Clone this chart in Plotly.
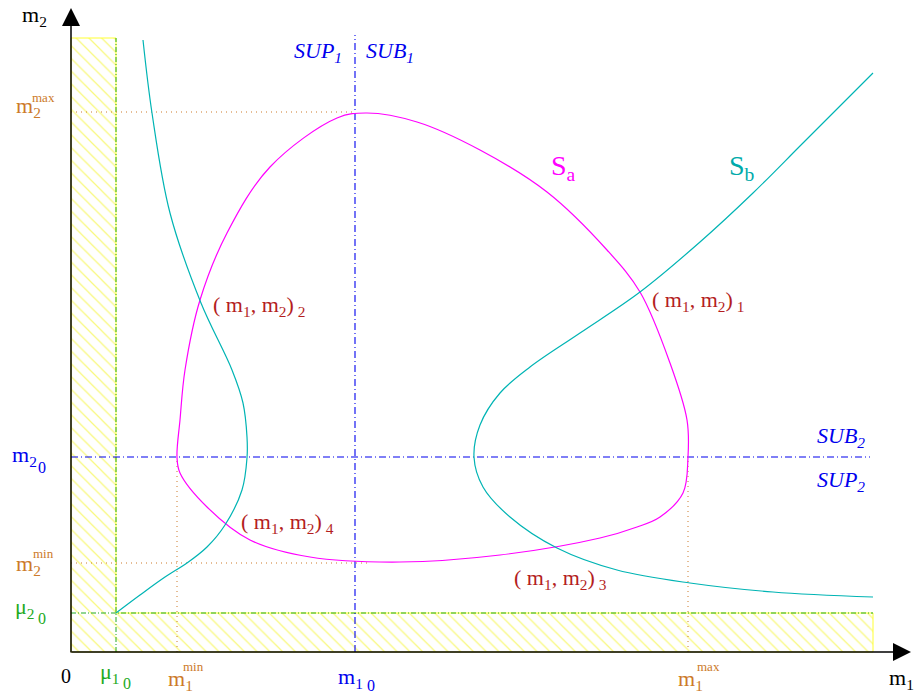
import plotly.graph_objects as go

# drawing units: origin at the axes corner, m1 to the right, m2 upwards
# curve S_a (closed loop)
sa_m1 = [296, 346, 409, 476, 536, 569, 599, 616, 617, 612, 589, 566, 529, 429, 329,
         239, 179, 136, 109, 106, 109, 114, 129, 156, 199, 266, 296]
sa_m2 = [539, 530, 502, 460, 402, 360, 289, 232, 195, 159, 135, 125, 114, 97, 90,
         95, 112, 145, 179, 195, 232, 282, 352, 419, 485, 534, 539]

# curve S_b, left branch (ends at the mu point) and right branch
sb_left_m1 = [72, 81, 99, 130, 161, 172, 176, 176, 171, 154, 136, 116, 94, 69, 45]
sb_left_m2 = [612, 539, 439, 349, 282, 249, 215, 194, 162, 127, 105, 89, 75, 57, 39]
sb_right_m1 = [802, 732, 682, 629, 569, 509, 459, 429, 409, 403, 412, 439, 486, 546, 619, 702, 802]
sb_right_m2 = [579, 509, 459, 410, 360, 319, 285, 259, 227, 195, 165, 135, 104, 82, 69, 60, 55]

# reference levels
mu1_0, mu2_0 = 45, 39
m1_min, m1_0, m1_max = 106, 284, 617
m2_min, m2_0, m2_max = 89, 195, 540
hatch_top, hatch_right = 614, 802
x_lo, x_hi, y_lo, y_hi = -71, 843, -44, 652

serif = "Liberation Serif"
orange = "#cc7a2a"
blue = "#0000ee"
green = "#22aa22"
red = "#b41e1e"
magenta = "#ff00ff"
teal = "#00b4b4"

fig = go.Figure()

# forbidden zone (hatched L)
fig.add_trace(go.Scatter(
    x=[0, hatch_right, hatch_right, mu1_0, mu1_0, 0, 0],
    y=[0, 0, mu2_0, mu2_0, hatch_top, hatch_top, 0],
    fill="toself", mode="lines", line=dict(color="#ffff33", width=1),
    fillpattern=dict(shape="\\", fgcolor="#f2f200", bgcolor="white", size=9, solidity=0.14),
    hoverinfo="skip"))

# green mu lines
fig.add_trace(go.Scatter(x=[mu1_0, mu1_0], y=[0, hatch_top], mode="lines",
                         line=dict(color=green, width=1, dash="5px,2px,1px,2px")))
fig.add_trace(go.Scatter(x=[0, hatch_right], y=[mu2_0, mu2_0], mode="lines",
                         line=dict(color=green, width=1, dash="5px,2px,1px,2px")))

# dotted min / max guides
dot = dict(color=orange, width=1, dash="1px,4px")
fig.add_trace(go.Scatter(x=[0, m1_0], y=[m2_max, m2_max], mode="lines", line=dot))
fig.add_trace(go.Scatter(x=[0, 300], y=[m2_min, m2_min], mode="lines", line=dot))
fig.add_trace(go.Scatter(x=[m1_min, m1_min], y=[0, m2_0], mode="lines", line=dot))
fig.add_trace(go.Scatter(x=[m1_max, m1_max], y=[0, m2_0], mode="lines", line=dot))

# blue dash-dot bifurcation lines
dd = dict(color=blue, width=1.1, dash="7px,3px,1px,3px")
fig.add_trace(go.Scatter(x=[m1_0, m1_0], y=[0, 617], mode="lines", line=dd))
fig.add_trace(go.Scatter(x=[0, 799], y=[m2_0, m2_0], mode="lines", line=dd))

# curves
curve = dict(width=1.2, shape="spline", smoothing=1.0)
fig.add_trace(go.Scatter(x=sa_m1, y=sa_m2, mode="lines", line=dict(color=magenta, **curve)))
fig.add_trace(go.Scatter(x=sb_left_m1, y=sb_left_m2, mode="lines", line=dict(color=teal, **curve)))
fig.add_trace(go.Scatter(x=sb_right_m1, y=sb_right_m2, mode="lines", line=dict(color=teal, **curve)))

# axes with arrows
for tip, tail in [((840, 0), (-1, 0)), ((0, 644), (0, -2))]:
    fig.add_annotation(x=tip[0], y=tip[1], ax=tail[0], ay=tail[1], axref="x", ayref="y",
                       text="", showarrow=True, arrowhead=2, arrowsize=2.4, arrowwidth=1.5,
                       arrowcolor="black", standoff=0)

labels = [
    (-37, 636, "m<sub>2</sub>", "black", 22, False),
    (830, -27, "m<sub>1</sub>", "black", 22, False),
    (-5, -24, "0", "black", 20, False),
    (39, -21, "μ<sub>1</sub>", green, 22, False),
    (56, -31, "0", green, 16, False),
    (109, -28, "m<sub>1</sub>", orange, 22, False),
    (122, -14, "min", orange, 13, False),
    (279, -26, "m<sub>1</sub>", blue, 22, False),
    (300, -33, "0", blue, 16, False),
    (619, -28, "m<sub>1</sub>", orange, 22, False),
    (637, -14, "max", orange, 13, False),
    (-43, 545, "m<sub>2</sub>", orange, 22, False),
    (-28, 555, "max", orange, 13, False),
    (-47, 196, "m<sub>2</sub>", blue, 22, False),
    (-29, 185, "0", blue, 16, False),
    (-43, 87, "m<sub>2</sub>", orange, 22, False),
    (-28, 99, "min", orange, 13, False),
    (-46, 44, "μ<sub>2</sub>", green, 22, False),
    (-29, 34, "0", green, 16, False),
    (247, 600, "SUP<sub>1</sub>", blue, 22, True),
    (319, 600, "SUB<sub>1</sub>", blue, 22, True),
    (770, 215, "SUB<sub>2</sub>", blue, 22, True),
    (770, 171, "SUP<sub>2</sub>", blue, 22, True),
    (492, 485, "S<sub>a</sub>", magenta, 28, False),
    (671, 485, "S<sub>b</sub>", "#00aaaa", 28, False),
    (627, 351, "( m<sub>1</sub>, m<sub>2</sub>)<sub> 1</sub>", red, 22, False),
    (188, 346, "( m<sub>1</sub>, m<sub>2</sub>)<sub> 2</sub>", red, 22, False),
    (216, 129, "( m<sub>1</sub>, m<sub>2</sub>)<sub> 4</sub>", red, 22, False),
    (489, 73, "( m<sub>1</sub>, m<sub>2</sub>)<sub> 3</sub>", red, 22, False),
]
for x, y, t, c, s, it in labels:
    if it:
        t = "<i>" + t + "</i>"
    fig.add_annotation(x=x, y=y, text=t, showarrow=False,
                       font=dict(family=serif, size=s, color=c))

fig.update_layout(
    width=914, height=696, margin=dict(l=0, r=0, t=0, b=0),
    paper_bgcolor="white", plot_bgcolor="white", showlegend=False,
    xaxis=dict(range=[x_lo, x_hi], visible=False, fixedrange=True),
    yaxis=dict(range=[y_lo, y_hi], visible=False, fixedrange=True),
)

# page has a default 8px body margin; drop it so the figure fills the window
fig.write_html("out.html", config={"displayModeBar": False},
               post_script="document.body.style.margin='0';")
